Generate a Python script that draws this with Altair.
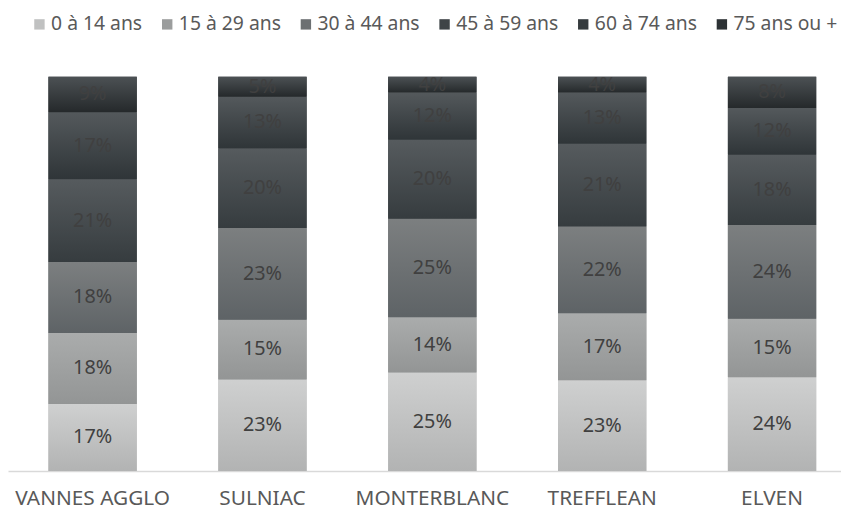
import altair as alt
import pandas as pd

communes = ["VANNES AGGLO", "SULNIAC", "MONTERBLANC", "TREFFLEAN", "ELVEN"]
groups = ["0 à 14 ans", "15 à 29 ans", "30 à 44 ans", "45 à 59 ans", "60 à 74 ans", "75 ans ou +"]
v_0_14 = [17, 23, 25, 23, 24]
v_15_29 = [18, 15, 14, 17, 15]
v_30_44 = [18, 23, 25, 22, 24]
v_45_59 = [21, 20, 20, 21, 18]
v_60_74 = [17, 13, 12, 13, 12]
v_75 = [9, 5, 4, 4, 8]
series = [v_0_14, v_15_29, v_30_44, v_45_59, v_60_74, v_75]

legend_colors = ["#c0c1c1", "#9b9d9d", "#6c7072", "#3e4447", "#353b3e", "#2d3235"]
grad_top = ["#cfd0d0", "#aaacac", "#7c7f80", "#565b5e", "#54595c", "#4c5154"]
grad_bottom = ["#b2b3b3", "#939595", "#5e6366", "#363c3f", "#2f3538", "#25292b"]

rows = []
for gi, (g, vals) in enumerate(zip(groups, series)):
    for c, v in zip(communes, vals):
        rows.append({"commune": c, "group": g, "order": gi, "value": v})
df = pd.DataFrame(rows)

FONT = "Noto Sans"

base = alt.Chart(df).transform_joinaggregate(
    total="sum(value)", groupby=["commune"]
).transform_calculate(
    pct="datum.value / datum.total"
).transform_stack(
    stack="pct", groupby=["commune"], as_=["y0", "y1"], sort=[alt.SortField("order")]
).transform_calculate(
    ymid="(datum.y0 + datum.y1) / 2", label="datum.value + '%'"
)

x_enc = alt.X(
    "commune:N",
    sort=communes,
    title=None,
    scale=alt.Scale(paddingInner=0.48, paddingOuter=0.192, align=0.62),
    axis=alt.Axis(
        labelAngle=0, ticks=False, labelPadding=17, labelFont=FONT,
        labelFontSize=21, labelColor="#595959", domainColor="#d9d9d9",
        domainWidth=1.5, grid=False,
    ),
)
y_scale = alt.Scale(domain=[0, 1], nice=False, zero=True)

legend_layer = base.mark_bar().encode(
    x=x_enc,
    y=alt.Y("y0:Q", scale=y_scale, axis=None),
    y2="y1:Q",
    color=alt.Color(
        "group:N",
        scale=alt.Scale(domain=groups, range=legend_colors),
        legend=alt.Legend(
            title=None, orient="none", legendX=22, legendY=-63,
            direction="horizontal", columns=6,
            symbolType="square", symbolSize=110, symbolStrokeWidth=0,
            labelFont=FONT, labelFontSize=19.5, labelColor="#595959",
            labelOffset=2, columnPadding=15, padding=0, labelLimit=300,
        ),
    ),
)

layers = [legend_layer]
for g, t, b in zip(groups, grad_top, grad_bottom):
    layers.append(
        base.transform_filter(alt.datum.group == g).mark_bar(
            color=alt.Gradient(
                gradient="linear",
                stops=[alt.GradientStop(color=t, offset=0), alt.GradientStop(color=b, offset=1)],
                x1=0, x2=0, y1=0, y2=1,
            )
        ).encode(
            x=alt.X("commune:N", sort=communes),
            y=alt.Y("y0:Q", scale=y_scale),
            y2="y1:Q",
        )
    )

text_layer = base.mark_text(
    font=FONT, fontSize=20, color="#404040", baseline="middle", clip=True
).encode(
    x=alt.X("commune:N", sort=communes),
    y=alt.Y("ymid:Q", scale=y_scale),
    text="label:N",
)
layers.append(text_layer)

chart = alt.layer(*layers).properties(
    width=841,
    height=398,
    autosize=alt.AutoSizeParams(type="none"),
    padding={"left": 0, "top": 67, "right": 0, "bottom": 38},
).configure_view(stroke=None)

chart.save("out.html", embed_options={"renderer": "svg", "actions": False})
